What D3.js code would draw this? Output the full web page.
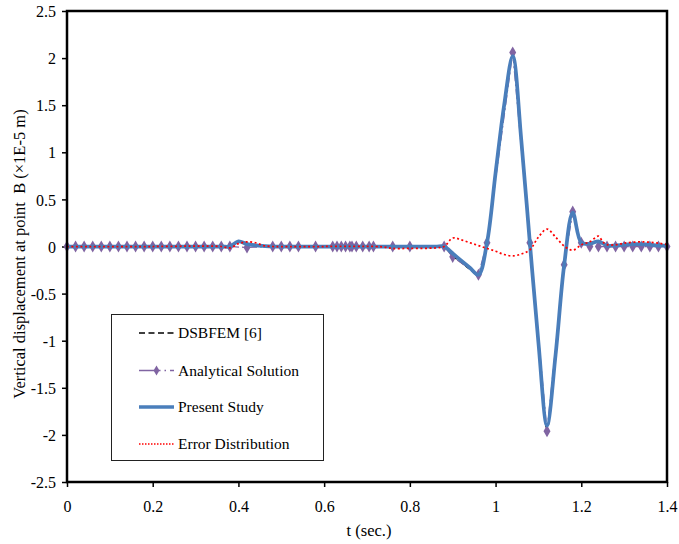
<!DOCTYPE html>
<html>
<head>
<meta charset="utf-8">
<script src="https://cdn.jsdelivr.net/npm/d3@7"></script>
<style>
  body { margin: 0; background: #fff; }
  svg { display: block; font-family: 'Liberation Serif', 'Times New Roman', serif; }
</style>
</head>
<body>
<svg id="chart" width="679" height="544"></svg>
<script>
// t (sec.) and displacement (x1E-5 m)
const analyticalT = [0, 0.02, 0.04, 0.06, 0.08, 0.1, 0.12, 0.14, 0.16, 0.18, 0.2, 0.22, 0.24, 0.26, 0.28, 0.3, 0.32, 0.34, 0.36, 0.38,
  0.42, 0.48, 0.5, 0.52, 0.54, 0.58, 0.62, 0.63, 0.64, 0.65, 0.66, 0.665, 0.675, 0.69, 0.705, 0.715, 0.76, 0.8, 0.88, 0.9,
  0.96, 0.98, 1.04, 1.08, 1.12, 1.16, 1.18, 1.2, 1.22, 1.24, 1.26, 1.28, 1.3, 1.32, 1.34, 1.36, 1.38, 1.4];
const analyticalV = [0, 0, 0, 0, 0, 0, 0, 0, 0, 0, 0, 0, 0, 0, 0, 0, 0, 0, 0, 0,
  -0.01, 0, 0, 0, 0, 0, 0, 0, 0, 0, 0, 0, 0, 0, 0, 0, 0, 0, 0, -0.11,
  -0.3, 0.04, 2.06, 0.04, -1.96, -0.195, 0.37, 0.04, 0, 0, 0, 0, 0, 0, 0, 0, 0, 0];

const presentT = [0, 0.1, 0.2, 0.3, 0.36, 0.38, 0.4, 0.42, 0.44, 0.46, 0.48, 0.5, 0.6, 0.7, 0.8, 0.86, 0.88, 0.9, 0.92, 0.94,
  0.96, 0.98, 1.0, 1.02, 1.04, 1.06, 1.08, 1.1, 1.12, 1.14, 1.16, 1.18, 1.2, 1.22, 1.24, 1.26, 1.28, 1.3, 1.32, 1.34,
  1.36, 1.38, 1.4];
const presentV = [0, 0, 0, 0, 0, 0, 0.055, 0.025, 0.012, 0.005, 0, 0, 0, 0, 0, 0, 0, -0.075, -0.15, -0.225,
  -0.3, 0.04, 0.78, 1.5, 2.02, 1.13, 0.04, -1.02, -1.9, -1.15, -0.2, 0.36, 0.04, 0.03, 0.055, 0.01, 0.01, 0.02, 0.025, 0.025,
  0.02, 0.01, 0.01];

const dsbfemT = [0, 0.1, 0.2, 0.3, 0.36, 0.38, 0.4, 0.42, 0.44, 0.46, 0.48, 0.5, 0.6, 0.7, 0.8, 0.86, 0.88, 0.9, 0.92, 0.94,
  0.96, 0.98, 1.0, 1.02, 1.04, 1.06, 1.08, 1.1, 1.12, 1.14, 1.16, 1.18, 1.2, 1.22, 1.24, 1.26, 1.3, 1.34, 1.4];
const dsbfemV = [0, 0, 0, 0, 0, 0, 0.05, 0.02, 0.01, 0.004, 0, 0, 0, 0, 0, 0, 0, -0.1, -0.17, -0.24,
  -0.3, 0.04, 0.78, 1.5, 2.02, 1.13, 0.04, -1.02, -1.93, -1.15, -0.2, 0.36, 0.04, 0.03, 0.05, 0.01, 0.02, 0.02, 0.01];

const errorT = [0, 0.2, 0.36, 0.38, 0.4, 0.42, 0.44, 0.46, 0.48, 0.5, 0.6, 0.72, 0.74, 0.76, 0.8, 0.86, 0.88, 0.9, 0.92,
  0.94, 0.96, 0.98, 1.0, 1.02, 1.04, 1.06, 1.08, 1.1, 1.12, 1.14, 1.16, 1.18, 1.2, 1.22, 1.24, 1.25, 1.26, 1.28, 1.3,
  1.34, 1.38, 1.4];
const errorV = [0, 0, 0, -0.015, 0.03, 0.05, 0.04, 0.008, 0, 0, 0, 0, -0.005, -0.02, -0.02, -0.015, 0, 0.09, 0.07,
  0.04, 0.01, -0.02, -0.05, -0.085, -0.1, -0.08, -0.035, 0.1, 0.185, 0.1, 0.005, -0.04, 0.018, 0.05, 0.11, 0.05, 0.02, 0.018, 0.035,
  0.05, 0.035, 0.02];

const xTicks = [0, 0.2, 0.4, 0.6, 0.8, 1, 1.2, 1.4];
const yTicks = [2.5, 2, 1.5, 1, 0.5, 0, -0.5, -1, -1.5, -2, -2.5];

const legendItems = ['DSBFEM [6]', 'Analytical Solution', 'Present Study', 'Error Distribution'];

const zip = (ts, vs) => ts.map((t, i) => [t, vs[i]]);

const plot = { left: 67, right: 667, top: 11, bottom: 482 };
const colors = { dsbfem: '#000', analytical: '#8064a2', present: '#4a7ebb', error: '#ff0000' };

const x = d3.scaleLinear().domain([0, 1.4]).range([plot.left, plot.right]);
const y = d3.scaleLinear().domain([-2.5, 2.5]).range([plot.bottom, plot.top]);

const svg = d3.select('#chart');
const fmt = v => String(v).replace('\u2212', '-');

// axes
const xAxis = d3.axisBottom(x).tickValues(xTicks).tickSize(5).tickSizeOuter(0).tickFormat(fmt);
const yAxis = d3.axisLeft(y).tickValues(yTicks).tickSize(5).tickSizeOuter(0).tickFormat(fmt);

const gx = svg.append('g').attr('transform', `translate(0, ${plot.bottom})`).call(xAxis);
const gy = svg.append('g').attr('transform', `translate(${plot.left}, 0)`).call(yAxis);
[gx, gy].forEach(g => {
  g.select('.domain').remove();
  g.selectAll('.tick line').attr('stroke', '#000').attr('stroke-width', 1.5);
  g.selectAll('.tick text').attr('fill', '#000').style('font-size', '16px')
    .style('font-family', "'Liberation Serif', 'Times New Roman', serif");
});
gx.selectAll('.tick text').attr('y', 19).attr('dy', '0.71em');
gy.selectAll('.tick text').attr('x', -11).attr('dy', '0.35em');

// series
const smooth = d3.line().x(d => x(d[0])).y(d => y(d[1])).curve(d3.curveCatmullRom.alpha(0.5));
const straight = d3.line().x(d => x(d[0])).y(d => y(d[1]));

const series = svg.append('g');
series.append('path')
  .attr('d', smooth(zip(dsbfemT, dsbfemV)))
  .attr('fill', 'none').attr('stroke', colors.dsbfem).attr('stroke-width', 1.5)
  .attr('stroke-dasharray', '5,3');

series.append('path')
  .attr('d', straight(zip(analyticalT, analyticalV)))
  .attr('fill', 'none').attr('stroke', colors.analytical).attr('stroke-width', 1.25)
  .attr('stroke-dasharray', '10,3,2,3');

series.selectAll('.marker')
  .data(zip(analyticalT, analyticalV))
  .enter()
  .append('path')
  .attr('class', 'marker')
  .attr('d', d3.symbol().type(d3.symbolDiamond).size(42))
  .attr('transform', d => `translate(${x(d[0])}, ${y(d[1])})`)
  .attr('fill', colors.analytical);

series.append('path')
  .attr('d', smooth(zip(presentT, presentV)))
  .attr('fill', 'none').attr('stroke', colors.present).attr('stroke-width', 3.75)
  .attr('stroke-linejoin', 'round');

series.append('path')
  .attr('d', smooth(zip(errorT, errorV)))
  .attr('fill', 'none').attr('stroke', colors.error).attr('stroke-width', 1.75)
  .attr('stroke-dasharray', '2,2.5');

// frame
svg.append('rect')
  .attr('x', plot.left).attr('y', plot.top)
  .attr('width', plot.right - plot.left).attr('height', plot.bottom - plot.top)
  .attr('fill', 'none').attr('stroke', '#000').attr('stroke-width', 2.5);

// legend
const legend = svg.append('g');
legend.append('rect')
  .attr('x', 111.5).attr('y', 314.5).attr('width', 212).attr('height', 146)
  .attr('fill', '#fff').attr('stroke', '#222').attr('stroke-width', 1);

const rowY = [333, 370.5, 407, 444];
const lx1 = 139, lx2 = 174;
legend.append('line').attr('x1', lx1).attr('x2', lx2).attr('y1', rowY[0]).attr('y2', rowY[0])
  .attr('stroke', colors.dsbfem).attr('stroke-width', 1.5).attr('stroke-dasharray', '6,3.5');
legend.append('line').attr('x1', lx1).attr('x2', lx2).attr('y1', rowY[1]).attr('y2', rowY[1])
  .attr('stroke', colors.analytical).attr('stroke-width', 1.5).attr('stroke-dasharray', '16,4,1.5,4,1.5,4');
legend.append('path')
  .attr('d', d3.symbol().type(d3.symbolDiamond).size(30))
  .attr('transform', `translate(${(lx1 + lx2) / 2}, ${rowY[1]})`)
  .attr('fill', colors.analytical);
legend.append('line').attr('x1', lx1).attr('x2', lx2).attr('y1', rowY[2]).attr('y2', rowY[2])
  .attr('stroke', colors.present).attr('stroke-width', 3.5);
legend.append('line').attr('x1', lx1).attr('x2', lx2).attr('y1', rowY[3]).attr('y2', rowY[3])
  .attr('stroke', colors.error).attr('stroke-width', 1.5).attr('stroke-dasharray', '1.5,1.5');

legend.selectAll('.label')
  .data(legendItems)
  .enter()
  .append('text')
  .attr('class', 'label')
  .attr('x', 178)
  .attr('y', (d, i) => rowY[i])
  .attr('dy', '0.35em')
  .style('font-size', '15.5px')
  .text(d => d);

// axis titles
svg.append('text')
  .attr('x', 369)
  .attr('y', 536)
  .attr('text-anchor', 'middle')
  .style('font-size', '16.5px')
  .text('t (sec.)');

svg.append('text')
  .attr('transform', `translate(25, 254) rotate(-90)`)
  .attr('text-anchor', 'middle')
  .style('font-size', '16.5px')
  .style('white-space', 'pre')
  .text('Vertical displacement at point\u00a0 B (\u00d71E-5 m)');
</script>
</body>
</html>
